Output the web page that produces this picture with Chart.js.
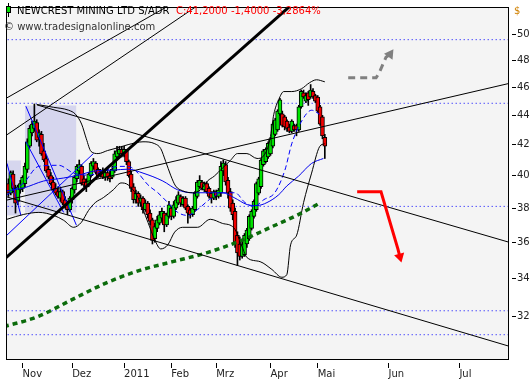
<!DOCTYPE html>
<html>
<head>
<meta charset="utf-8">
<script src="https://cdn.jsdelivr.net/npm/chart.js@4.4.1/dist/chart.umd.min.js"></script>
<style>
  html, body { margin: 0; padding: 0; background: #fff; }
  canvas { display: block; }
</style>
</head>
<body>
<canvas id="priceChart" width="532" height="380"></canvas>
<script>
// trading day index of the first candle (0 = first day of November)
const firstDay = -6;

const opens = [39.5, 38.9, 40.1, 39.2, 38.4, 39.1,
  39.2, 39.5, 40.4, 41.9, 42.8, 43.1, 43.5, 42.5, 42.7, 41.6,
  41.1, 40.4, 40.0, 39.6, 39.2, 39.0, 38.6, 39.0, 38.5, 38.2,
  37.9, 38.5, 39.1, 39.8, 40.3, 40.6, 39.8, 39.6, 39.4, 40.0,
  40.6, 40.8, 40.4, 40.2, 40.2, 39.9, 40.2, 40.0, 39.9, 40.3,
  41.2, 41.4, 41.7, 41.3, 41.6, 40.9, 40.1, 39.3, 38.5, 38.9,
  38.3, 38.6, 37.9, 38.3, 37.7, 37.3, 36.2, 36.8, 37.1, 37.4,
  37.7, 37.0, 37.5, 38.0, 37.5, 38.0, 38.3, 38.7, 38.2, 38.6,
  38.1, 37.9, 37.6, 37.9, 38.7, 39.3, 39.6, 39.1, 39.5, 39.2,
  38.9, 38.6, 39.0, 38.7, 38.9, 40.3, 40.7, 39.7, 39.0, 38.3,
  37.8, 36.4, 35.9, 35.2, 35.3, 35.9, 36.2, 36.8, 37.5, 37.9,
  38.9, 39.3, 40.7, 40.9, 41.2, 41.4, 41.9, 42.7, 43.0, 44.1,
  44.1, 43.9, 43.6, 43.2, 42.9, 43.3, 43.3, 43.0, 44.6, 45.6,
  45.0, 45.6, 45.3, 45.7, 45.4, 45.3, 44.6, 43.9, 42.5];

const highs = [39.8, 40.3, 40.3, 39.4, 39.4, 39.7,
  40.0, 40.8, 42.4, 43.3, 43.6, 44.8, 43.7, 43.0, 42.9, 42.1,
  41.3, 40.6, 40.2, 39.9, 39.5, 39.3, 39.2, 39.1, 38.7, 38.4,
  38.7, 39.3, 40.0, 40.7, 41.0, 40.7, 40.0, 39.8, 40.2, 40.9,
  41.1, 40.9, 40.5, 40.4, 40.5, 40.4, 40.4, 40.3, 40.6, 41.6,
  41.9, 41.9, 41.9, 41.9, 41.7, 41.0, 40.3, 39.5, 39.1, 39.0,
  38.8, 38.7, 38.5, 38.4, 37.9, 37.4, 37.1, 37.5, 37.8, 38.0,
  37.8, 37.7, 38.4, 38.1, 38.4, 38.7, 39.0, 38.8, 38.7, 38.7,
  38.2, 38.0, 38.1, 39.0, 39.7, 40.0, 39.7, 39.6, 39.6, 39.3,
  39.0, 39.1, 39.1, 39.2, 40.9, 41.0, 40.9, 39.9, 39.2, 38.5,
  38.0, 36.6, 36.3, 36.1, 36.5, 36.8, 37.6, 37.9, 38.5, 39.6,
  39.9, 41.1, 41.7, 41.8, 42.2, 42.5, 43.5, 43.8, 44.4, 45.2,
  44.3, 44.0, 43.7, 43.4, 43.7, 43.4, 43.4, 44.7, 45.8, 45.8,
  45.6, 45.7, 46.2, 45.9, 45.5, 45.4, 44.7, 44.0, 42.7];

const lows = [38.7, 38.8, 39.0, 37.7, 38.2, 38.9,
  39.0, 39.3, 40.2, 41.8, 42.6, 42.9, 42.2, 41.9, 41.3, 40.9,
  40.2, 39.8, 39.4, 39.0, 38.8, 38.6, 38.4, 38.2, 38.0, 37.6,
  37.8, 38.3, 38.9, 39.6, 40.1, 39.4, 39.3, 39.0, 39.3, 39.9,
  40.4, 40.1, 39.9, 39.9, 39.8, 39.7, 39.7, 39.6, 39.8, 40.2,
  41.0, 41.3, 41.2, 41.2, 40.7, 39.9, 39.0, 38.3, 38.3, 38.1,
  38.1, 37.7, 37.8, 37.4, 37.0, 35.9, 36.0, 36.6, 37.0, 37.2,
  36.6, 36.9, 37.4, 37.3, 37.4, 37.9, 38.2, 38.1, 38.1, 37.9,
  37.1, 37.4, 37.5, 37.8, 38.6, 39.2, 39.1, 39.0, 38.9, 38.6,
  38.3, 38.5, 38.5, 38.6, 38.7, 40.0, 39.4, 38.6, 37.8, 37.3,
  35.7, 34.7, 35.0, 35.1, 35.2, 35.7, 36.1, 36.7, 37.4, 37.8,
  38.8, 39.2, 40.6, 40.8, 41.1, 41.3, 41.8, 42.6, 42.9, 44.0,
  43.2, 43.0, 42.9, 42.8, 42.8, 42.9, 42.6, 42.9, 44.5, 45.2,
  44.9, 44.7, 45.2, 45.2, 44.9, 44.2, 43.3, 42.4, 41.1];

const closes = [38.9, 40.2, 39.2, 38.3, 39.3, 39.5,
  39.9, 40.6, 42.2, 43.1, 43.4, 43.6, 42.3, 42.8, 41.4, 41.0,
  40.3, 39.9, 39.5, 39.1, 38.9, 38.7, 39.0, 38.3, 38.1, 37.9,
  38.6, 39.2, 39.9, 40.6, 40.7, 39.5, 39.4, 39.3, 40.1, 40.8,
  40.9, 40.2, 40.0, 40.0, 39.9, 40.2, 39.9, 39.8, 40.4, 41.4,
  41.6, 41.7, 41.4, 41.7, 40.9, 40.0, 39.2, 38.5, 38.9, 38.3,
  38.6, 37.9, 38.3, 37.6, 37.2, 36.1, 36.9, 37.3, 37.6, 37.8,
  37.0, 37.6, 38.2, 37.5, 38.2, 38.5, 38.8, 38.3, 38.6, 38.0,
  37.7, 37.6, 38.0, 38.9, 39.6, 39.7, 39.2, 39.5, 39.0, 38.7,
  38.6, 39.0, 38.7, 39.1, 40.6, 40.8, 39.6, 38.9, 38.0, 37.6,
  36.0, 35.4, 35.2, 35.9, 36.4, 36.7, 37.5, 37.8, 38.4, 39.5,
  39.8, 41.0, 41.6, 41.7, 42.1, 42.4, 43.4, 43.7, 44.3, 45.1,
  43.3, 43.2, 43.1, 42.9, 43.6, 43.0, 43.0, 44.6, 45.7, 45.3,
  45.4, 45.1, 45.8, 45.3, 45.0, 44.3, 43.4, 42.6, 41.9];

const monthTicks = [0, 21, 43, 63, 82, 105, 125, 155, 185];
const monthLabels = ["Nov", "Dez", "2011", "Feb", "Mrz", "Apr", "Mai", "Jun", "Jul"];
const priceTicks = [32, 34, 36, 38, 40, 42, 44, 46, 48, 50];

// indicators: [day, price]
const upperBand = [[6, 44.77], [13, 44.57], [19.5, 44.36], [22.4, 44.08], [25, 43.4], [27, 42.4],
  [29, 41.56], [32, 41.42], [36, 41.62], [40.5, 41.81], [44.7, 42.01], [51, 42.2], [56, 42.07],
  [58.5, 41.75], [60.6, 40.91], [62.7, 40.03], [64.8, 39.35], [67.8, 39.05], [72, 38.93],
  [75.3, 39.11], [78.3, 39.66], [81.2, 39.97], [84.6, 40.47], [88, 40.97], [91, 41.42],
  [95, 41.42], [99.3, 41.1], [102.2, 41.29], [104.8, 42.4], [106.4, 44.08], [108.5, 45.12],
  [110.6, 45.69], [114, 45.69], [118.2, 45.9], [121.5, 46.33], [124.5, 46.55], [128, 46.4]];
const lowerBand = [[-6.6, 37.33], [0.5, 37.62], [6.9, 37.74], [13.2, 37.56], [17.4, 37.27],
  [21.6, 36.86], [24.9, 37.15], [27.9, 37.85], [30.8, 38.33], [34.2, 38.63], [38.4, 39.11],
  [41.7, 39.54], [44.7, 39.42], [48.9, 38.63], [53.1, 37.15], [56, 36.13], [58.5, 35.62],
  [61.5, 35.85], [64.4, 36.58], [67.8, 36.86], [74.1, 36.86], [79.5, 37.33], [84.6, 37.09],
  [89.6, 36.81], [93, 35.73], [95.1, 35.13], [100.6, 34.91], [105.6, 34.48], [109.8, 34.06],
  [111.9, 34.2], [113.5, 35.85], [116.1, 36.41], [119, 38.33], [122.4, 40.16], [125.8, 41.88],
  [127.9, 42.07]];
const midBand = [[-6.6, 38.81], [0.5, 39.54], [6.8, 40.59], [15.3, 40.66], [21.6, 40.16],
  [27.9, 40.03], [34.2, 40.28], [40.5, 40.59], [44.7, 40.59], [48.9, 40.16], [53.1, 39.42],
  [57.3, 38.93], [61.5, 38.33], [65.7, 37.74], [69.9, 37.56], [74.1, 37.91], [79.1, 38.51],
  [84.6, 38.93], [90, 38.93], [94.2, 38.33], [98, 38.09], [102.2, 38.51], [106.8, 38.93],
  [111.1, 40.35], [114, 42.07], [118.2, 43.61], [122.4, 44.36], [125.8, 44.08]];
const slowAvg = [[-6.6, 39.05], [0.5, 39.23], [8.9, 39.66], [17.4, 39.85], [23.7, 40.03],
  [30, 40.28], [38.4, 40.35], [44.7, 40.41], [51, 40.16], [59.4, 39.66], [65.7, 39.11],
  [72, 38.93], [78.3, 38.93], [84.6, 38.93], [89.6, 38.63], [95.1, 38.21], [99.3, 38.15],
  [103.5, 38.33], [108.5, 38.81], [111.9, 39.35], [116.9, 39.97], [122.4, 40.78], [127.4, 41.1]];
const longAvg = [[-7.9, 31.5], [6.4, 32.0], [20.7, 32.86], [35, 33.73], [49.3, 34.42],
  [63.6, 34.91], [77.9, 35.4], [92.1, 36.07], [106, 36.92], [117.8, 37.68], [126.2, 38.33]];

const levels = [49.6, 44.85, 38.1, 32.3, 31.1];

const thinTrends = [
  [[-7, 45.2], [75, 53.82]],
  [[-7, 42.63], [80, 53.13]],
  [[-7, 38.47], [206, 46.28]],
  [[6, 44.74], [206, 36.0]],
  [[-7, 38.69], [206, 30.54]]
];
const thickTrend = [[-7, 35.13], [120, 53.48]];

const fanBoxes = [[1.0, 22.8, 37.74, 44.7], [-6.6, -0.7, 37.56, 40.97]];
const fanLines = [
  [[1.4, 44.64], [22.8, 36.98]],
  [[-6.6, 40.78], [-0.7, 37.56]],
  [[1.4, 42.2], [17.4, 37.74]],
  [[-6.6, 36.41], [30.0, 41.42]]
];

const upArrow = [[137.9, 46.69], [149.7, 46.69], [151.0, 47.06], [153.9, 48.24], [155.6, 48.47]];
const downArrow = [[141.7, 38.99], [151.8, 38.99], [159.0, 35.6], [159.8, 35.18]];

const pts = list => list.map(p => ({ x: p[0], y: p[1] }));
const days = opens.map((o, k) => firstDay + k);

const datasets = [];

fanBoxes.forEach(b => {
  datasets.push({
    type: "line", data: [{ x: b[0], y: b[3] }, { x: b[1], y: b[3] }],
    borderWidth: 0, pointRadius: 0, fill: { value: b[2] },
    backgroundColor: "#d6d6ee", order: 100
  });
});

levels.forEach(v => {
  datasets.push({
    type: "line", data: [{ x: -8, y: v }, { x: 210, y: v }],
    borderColor: "#0000ff", borderWidth: 1, borderDash: [1, 3],
    pointRadius: 0, order: 90, clip: 0
  });
});

datasets.push({
  type: "bar",
  data: days.map((d, k) => ({ x: d, y: [lows[k], highs[k]] })),
  backgroundColor: "#000", barThickness: 1, grouped: false, order: 60
});
datasets.push({
  type: "bar",
  data: days.map((d, k) => ({ x: d, y: [opens[k], closes[k]] })),
  backgroundColor: closes.map((c, k) => c >= opens[k] ? "#00e400" : "#f00000"),
  borderColor: "#000", borderWidth: 1, borderSkipped: false,
  barThickness: 4, grouped: false, order: 50
});

fanLines.forEach(l => {
  datasets.push({
    type: "line", data: pts(l), borderColor: "#0000ff", borderWidth: 1,
    pointRadius: 0, order: 20, clip: 0
  });
});

const curve = (list, color, dash, width) => ({
  type: "line", data: pts(list), borderColor: color, borderWidth: width,
  borderDash: dash, pointRadius: 0, cubicInterpolationMode: "monotone",
  order: 10, clip: 0
});
datasets.push(curve(longAvg, "#0b6b0b", [5, 4], 3.5));
datasets.push(curve(upperBand, "#000", [], 1));
datasets.push(curve(lowerBand, "#000", [], 1));
datasets.push(curve(slowAvg, "#0000ee", [], 1));
datasets.push(curve(midBand, "#0000ff", [5, 3], 1));

thinTrends.forEach(l => {
  datasets.push({
    type: "line", data: pts(l), borderColor: "#000", borderWidth: 1,
    pointRadius: 0, order: 5, clip: 0
  });
});
datasets.push({
  type: "line", data: pts(thickTrend), borderColor: "#000", borderWidth: 3,
  pointRadius: 0, order: 4, clip: 0
});

datasets.push({
  type: "line", data: pts(upArrow), borderColor: "#808080", borderWidth: 3,
  borderDash: [7, 5],
  pointRadius: upArrow.map((p, k) => k === upArrow.length - 1 ? 6 : 0),
  pointStyle: "triangle", pointRotation: 35, pointBorderWidth: 0,
  pointBackgroundColor: "#808080", order: 2, clip: 0
});
datasets.push({
  type: "line", data: pts(downArrow), borderColor: "#ff0000", borderWidth: 3,
  pointRadius: downArrow.map((p, k) => k === downArrow.length - 1 ? 6 : 0),
  pointStyle: "triangle", pointRotation: 165, pointBorderWidth: 0,
  pointBackgroundColor: "#ff0000", order: 2, clip: 0
});

const frame = {
  id: "frame",
  beforeDraw(c) {
    const a = c.chartArea;
    const ctx = c.ctx;
    ctx.save();
    ctx.fillStyle = "#f4f4f4";
    ctx.fillRect(a.left, a.top, a.right - a.left, a.bottom - a.top);
    ctx.restore();
  },
  afterDraw(c) {
    const a = c.chartArea;
    const ctx = c.ctx;
    ctx.save();
    ctx.strokeStyle = "#000";
    ctx.lineWidth = 1;
    ctx.strokeRect(a.left + 0.5, a.top + 0.5, a.right - a.left - 1, a.bottom - a.top - 1);

    // title icon
    ctx.beginPath();
    ctx.moveTo(8.5, 3);
    ctx.lineTo(8.5, 17);
    ctx.stroke();
    ctx.fillStyle = "#00dd00";
    ctx.fillRect(6.5, 6.5, 4, 6);
    ctx.strokeRect(6.5, 6.5, 4, 6);

    ctx.font = '10px "DejaVu Sans"';
    ctx.textBaseline = "alphabetic";
    ctx.fillStyle = "#000";
    ctx.fillText("NEWCREST MINING LTD S/ADR", 17, 14);
    ctx.fillStyle = "#ff0000";
    ctx.fillText("C:41,2000 -1,4000 -3,2864%", 176, 14);
    ctx.fillStyle = "#333";
    ctx.fillText("\u00a9 www.tradesignalonline.com", 4, 30);
    ctx.fillStyle = "#d08000";
    ctx.fillText("$", 514, 14);
    ctx.restore();
  }
};

new Chart(document.getElementById("priceChart"), {
  type: "line",
  data: { datasets },
  options: {
    responsive: false,
    animation: false,
    events: [],
    layout: { padding: { left: 2, top: 1, right: 0, bottom: 0 } },
    plugins: { legend: { display: false }, tooltip: { enabled: false } },
    scales: {
      x: {
        type: "linear", min: -7.017, max: 206.0, bounds: "data", offset: false,
        afterBuildTicks: s => { s.ticks = monthTicks.map(v => ({ value: v })); },
        afterFit: s => { s.height = 20; },
        ticks: {
          autoSkip: false, maxRotation: 0, align: "start", padding: 0, color: "#222",
          font: { family: "DejaVu Sans", size: 10 },
          callback: v => monthLabels[monthTicks.indexOf(v)]
        },
        grid: { drawOnChartArea: false, tickLength: 8, tickBorderDash: [0, 3, 5, 40], color: "#000", offset: false },
        border: { display: false }
      },
      y: {
        type: "logarithmic", position: "right", min: 29.88, max: 52.23, bounds: "data",
        afterBuildTicks: s => { s.ticks = priceTicks.map(v => ({ value: v })); },
        afterFit: s => { s.width = 23; },
        ticks: {
          autoSkip: false, padding: 1, color: "#222",
          font: { family: "DejaVu Sans", size: 10 },
          callback: v => String(v)
        },
        grid: { drawOnChartArea: false, tickLength: 7, tickBorderDash: [0, 3, 4, 40], color: "#000" },
        border: { display: false }
      }
    }
  },
  plugins: [frame]
});
</script>
</body>
</html>
